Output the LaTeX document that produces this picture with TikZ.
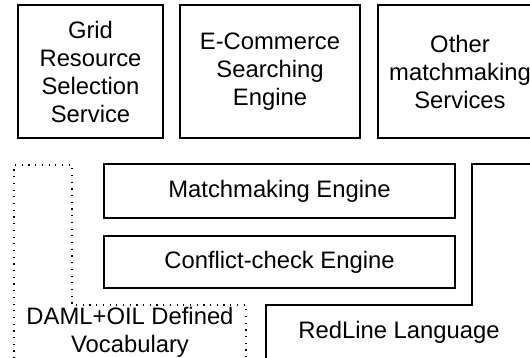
\documentclass[tikz,border=0pt]{standalone}
\usepackage{fontspec}
\setmainfont{Liberation Sans}
\tikzset{
  boxstyle/.style={draw, line width=1.1pt, align=center, inner sep=0pt},
  lbl/.style={align=center, inner sep=0pt},
  outline/.style={line width=1.1pt},
  dotline/.style={line width=1.1pt, dash pattern=on 1.2pt off 5.5pt},
}
\begin{document}
\begin{tikzpicture}[x=1pt,y=-1pt,font=\fontsize{23.8}{28}\selectfont]
\path[use as bounding box] (0,0) rectangle (530,358);
\clip (0,0) rectangle (530,358);
\node[boxstyle, minimum width=145pt, minimum height=133pt] (grid) at (90.5,71.5) {Grid\\Resource\\Selection\\Service};
\node[boxstyle, minimum width=180pt, minimum height=133pt] (ecom) at (270,71.5) {E-Commerce\\Searching\\Engine};
\node[boxstyle, minimum width=164pt, minimum height=133pt] (other) at (460,71.5) {Other\\matchmaking\\Services};
\node[boxstyle, minimum width=351pt, minimum height=54pt] (match) at (279.5,191) {Matchmaking Engine};
\node[boxstyle, minimum width=351pt, minimum height=52pt] (conf) at (279.5,262) {Conflict-check Engine};
% RedLine outline
\coordinate (r1) at (266,365);
\coordinate (r2) at (266,305);
\coordinate (r3) at (472,305);
\coordinate (r4) at (472,164);
\coordinate (r5) at (540,164);
\draw[outline] (r1) -- (r2) -- (r3) -- (r4) -- (r5);
\node[lbl] (red) at (399,332) {RedLine Language};
% DAML dotted outline
\coordinate (d1) at (14,365);
\coordinate (d2) at (14,165);
\coordinate (d3) at (72,165);
\coordinate (d4) at (72,305);
\coordinate (d5) at (246,305);
\coordinate (d6) at (246,365);
\draw[dotline] (d1) -- (d2) -- (d3) -- (d4) -- (d5) -- (d6);
\node[lbl] (daml) at (130,332) {DAML+OIL Defined\\Vocabulary};
\end{tikzpicture}
\end{document}
